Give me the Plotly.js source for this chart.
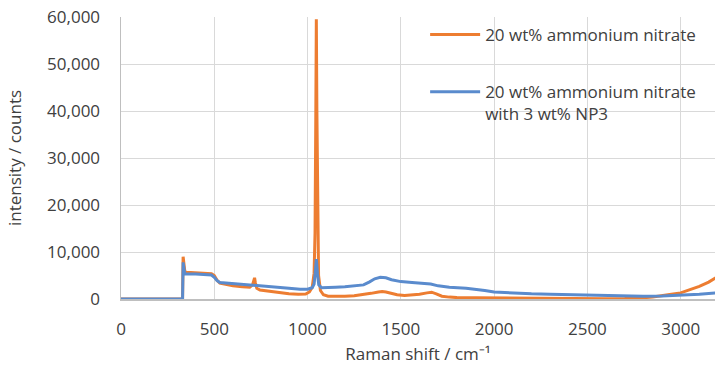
<!DOCTYPE html>
<html>
<head>
<meta charset="utf-8">
<script src="https://cdn.plot.ly/plotly-3.0.1.min.js"></script>
<style>html,body{margin:0;padding:0;background:#fff;}#chart{width:715px;height:367px;}</style>
</head>
<body>
<div id="chart"></div>
<script>
// Raman shift (cm^-1) and intensity (counts)
const seriesNames = ["20 wt% ammonium nitrate", "20 wt% ammonium nitrate<br>with 3 wt% NP3"];

const shiftAN = [0, 330, 333, 337, 342, 350, 400, 450, 485, 500, 515, 530, 560, 600, 650, 690, 705, 712, 716, 720, 728, 745, 780, 820, 900, 950, 990, 1010, 1025, 1035, 1040, 1044, 1047, 1050, 1054, 1059, 1069, 1085, 1110, 1150, 1200, 1250, 1300, 1340, 1380, 1400, 1420, 1450, 1480, 1520, 1560, 1600, 1640, 1665, 1690, 1720, 1760, 1800, 1900, 2000, 2100, 2200, 2300, 2400, 2500, 2600, 2700, 2750, 2800, 2850, 2900, 2950, 3000, 3050, 3100, 3150, 3200];
const intensityAN = [0, 0, 9000, 7500, 5900, 5700, 5600, 5500, 5400, 5000, 4000, 3400, 3100, 2800, 2600, 2500, 3000, 4400, 4500, 3500, 2300, 1900, 1700, 1500, 1100, 1000, 1050, 1500, 2500, 5500, 14000, 38000, 59500, 40000, 15000, 5000, 1800, 900, 600, 550, 600, 700, 900, 1200, 1500, 1600, 1500, 1200, 900, 750, 800, 1000, 1300, 1450, 1100, 600, 400, 300, 250, 200, 180, 150, 120, 100, 80, 60, 100, 150, 250, 450, 800, 1000, 1300, 2000, 2700, 3600, 4800];

const shiftNP3 = [0, 330, 333, 337, 342, 400, 450, 485, 500, 515, 530, 600, 700, 720, 760, 800, 860, 900, 960, 1000, 1025, 1035, 1041, 1047, 1053, 1060, 1075, 1100, 1150, 1200, 1250, 1300, 1330, 1360, 1390, 1420, 1450, 1500, 1560, 1620, 1660, 1700, 1760, 1850, 1900, 1950, 2000, 2100, 2200, 2300, 2400, 2500, 2600, 2700, 2800, 2900, 3000, 3100, 3200];
const intensityNP3 = [0, 0, 7800, 6200, 5300, 5300, 5200, 5100, 4600, 3900, 3500, 3300, 3000, 2900, 2800, 2600, 2400, 2300, 2100, 2100, 2400, 3200, 5500, 8500, 5500, 3000, 2400, 2400, 2500, 2600, 2800, 3000, 3600, 4300, 4600, 4500, 4100, 3700, 3500, 3400, 3200, 2800, 2500, 2300, 2100, 1800, 1500, 1250, 1100, 1000, 900, 800, 700, 650, 600, 650, 750, 1000, 1350];

const xTicks = [0, 500, 1000, 1500, 2000, 2500, 3000];
const yTicks = [0, 10000, 20000, 30000, 40000, 50000, 60000];

const font = "Open Sans, sans-serif";
const textColor = "#404040";

const traces = [
  {x: shiftAN, y: intensityAN, name: seriesNames[0], type: "scatter", mode: "lines",
   line: {color: "#ED7D31", width: 3}, legendgroup: "a"},
  {x: shiftNP3, y: intensityNP3, name: seriesNames[1], type: "scatter", mode: "lines",
   line: {color: "#5A8BCD", width: 3}, legendgroup: "b"}
];

const layout = {
  width: 715, height: 367,
  margin: {l: 121, r: 0, t: 17, b: 68, pad: 0},
  paper_bgcolor: "#fff", plot_bgcolor: "#fff",
  font: {family: font, color: textColor, size: 17},
  showlegend: true,
  legend: {x: 0.512, y: 1.0, xanchor: "left", yanchor: "top",
    bgcolor: "rgba(255,255,255,0)", font: {family: font, size: 17, color: textColor},
    traceorder: "grouped", tracegroupgap: 32, valign: "top", itemwidth: 50},
  xaxis: {
    range: [0, 3184], tickvals: xTicks, ticktext: xTicks.map(String),
    showgrid: true, gridcolor: "#D9D9D9", gridwidth: 1,
    showline: true, linecolor: "#BFBFBF", linewidth: 1.5,
    zeroline: false, ticks: "", ticklabelstandoff: 14,
    tickfont: {family: font, size: 17, color: textColor},
    title: {text: "Raman shift / cm\u207B\u00B9", font: {family: font, size: 17, color: textColor}, standoff: 9}
  },
  yaxis: {
    range: [0, 60000], tickvals: yTicks, ticktext: yTicks.map(v => v.toLocaleString("en-US")),
    showgrid: true, gridcolor: "#D9D9D9", gridwidth: 1,
    showline: true, linecolor: "#BFBFBF", linewidth: 1.5,
    zeroline: false, ticks: "", ticklabelstandoff: 16,
    tickfont: {family: font, size: 17, color: textColor},
    title: {text: "intensity / counts", font: {family: font, size: 17, color: textColor}, standoff: 21}
  }
};

Plotly.newPlot("chart", traces, layout, {staticPlot: true, displayModeBar: false});
</script>
</body>
</html>
